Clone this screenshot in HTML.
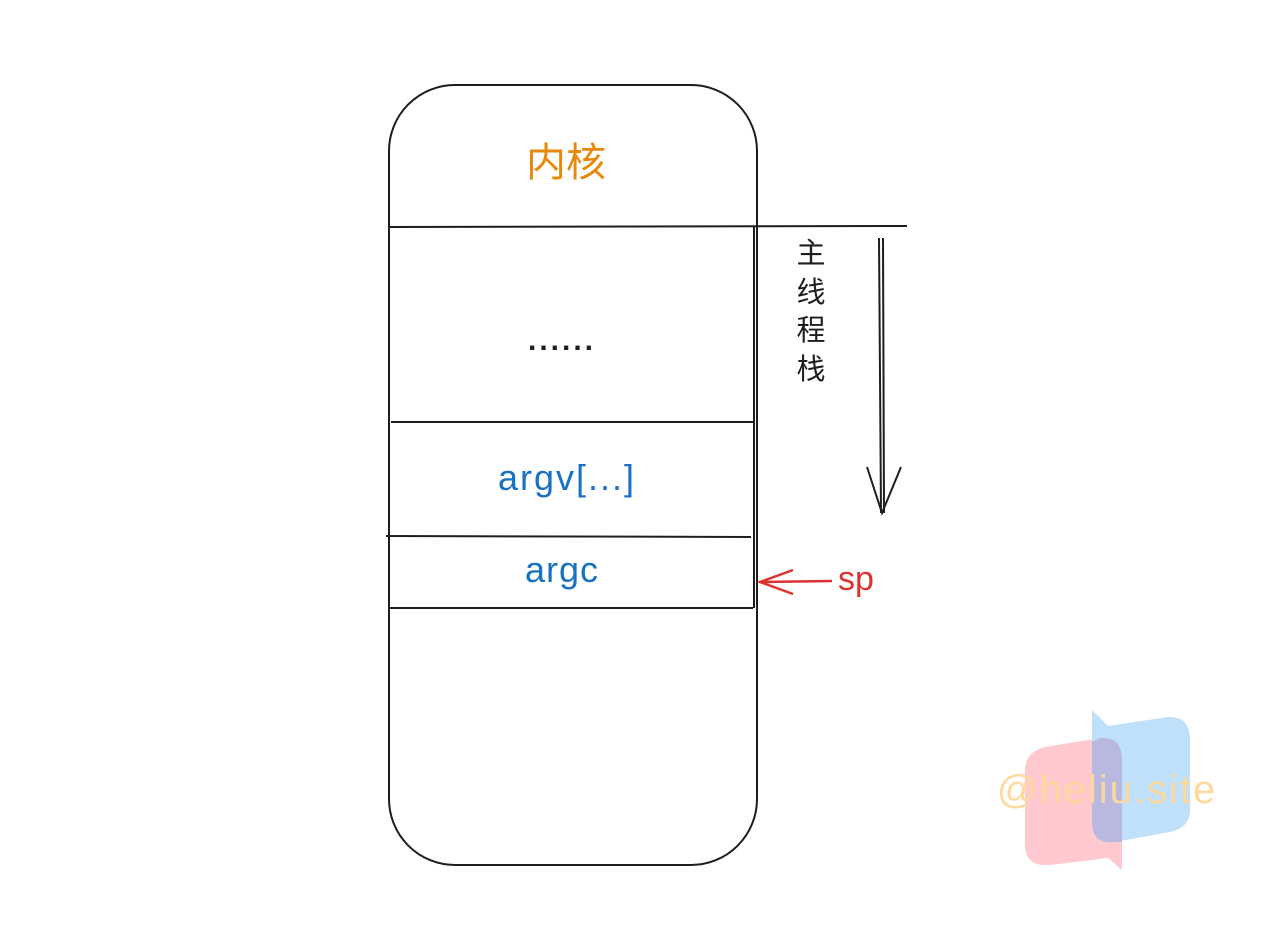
<!DOCTYPE html>
<html><head><meta charset="utf-8"><style>
html,body{margin:0;padding:0;background:#fff;}
svg{display:block;}
</style></head><body>
<svg width="1268" height="944" viewBox="0 0 1268 944" xmlns="http://www.w3.org/2000/svg">
<rect width="1268" height="944" fill="#fff"/>
<!-- watermark -->
<path d="M1025 770 Q1025 752 1045 747 L1100 738 Q1122 736 1122 760 L1122 870 L1108 858 L1050 865 Q1025 867 1025 845 Z" fill="#ffc9cf"/>
<path d="M1092 710 L1108 726 L1168 717 Q1190 716 1190 740 L1190 810 Q1190 828 1170 832 L1115 842 Q1092 845 1092 822 Z" fill="#bfe0fb"/>
<path d="M1092 742 L1100 738 Q1122 736 1122 760 L1122 842 L1115 842 Q1092 845 1092 822 Z" fill="#b9b9e0"/>
<text x="1107" y="803" font-family="Liberation Sans, sans-serif" font-size="40" letter-spacing="2" fill="#ffd89a" text-anchor="middle" opacity="0.95">@heliu.site</text>
<!-- stack box -->
<g fill="none" stroke="#1e1e1e" stroke-width="2">
<rect x="389" y="85" width="368" height="780" rx="66" ry="66"/>
<line x1="389" y1="227" x2="907" y2="226"/>
<line x1="391" y1="422" x2="753" y2="422"/>
<line x1="386" y1="536" x2="751" y2="537"/>
<line x1="389" y1="608" x2="753" y2="608"/>
<line x1="754" y1="227" x2="754" y2="608"/>
<line x1="879" y1="238" x2="881" y2="513"/>
<line x1="883" y1="238" x2="884" y2="513"/>
<polyline points="867,467 882,513 901,467"/>
</g>
<text x="566" y="176" font-family="Liberation Sans, Noto Sans CJK SC, sans-serif" font-size="40" fill="#e8890c" text-anchor="middle">内核</text>
<text x="562" y="350" font-family="Liberation Sans, sans-serif" font-size="30" font-weight="bold" letter-spacing="3" fill="#1e1e1e" text-anchor="middle">......</text>
<g font-family="Liberation Sans, Noto Sans CJK SC, sans-serif" font-size="29" fill="#1e1e1e" text-anchor="middle">
<text x="811" y="263">主</text>
<text x="811" y="302">线</text>
<text x="811" y="340">程</text>
<text x="811" y="379">栈</text>
</g>
<text x="567" y="490" font-family="Liberation Sans, sans-serif" font-size="36" letter-spacing="2" fill="#1971c2" text-anchor="middle">argv[...]</text>
<text x="562" y="582" font-family="Liberation Sans, sans-serif" font-size="36" letter-spacing="1" fill="#1971c2" text-anchor="middle">argc</text>
<g stroke="#e03131" stroke-width="2.5" fill="none">
<line x1="760" y1="582" x2="832" y2="581"/>
<polyline points="793,570 760,582 793,594"/>
</g>
<text x="856" y="590" font-family="Liberation Sans, sans-serif" font-size="34" fill="#e03131" text-anchor="middle">sp</text>
</svg>
</body></html>
